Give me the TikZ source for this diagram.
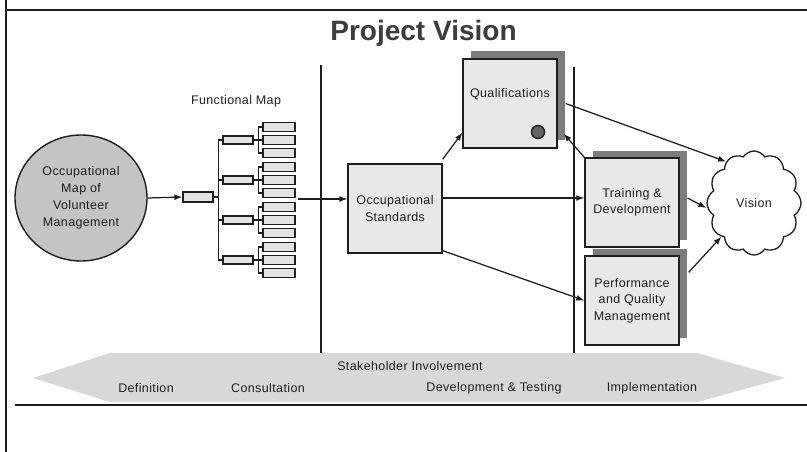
\documentclass[tikz,border=0pt]{standalone}
\usepackage{fontspec}
\setmainfont{Liberation Sans}
\newfontfamily\labfont[LetterSpace=3]{Liberation Sans}
\usetikzlibrary{arrows.meta,shapes.symbols,shapes.geometric,shadows}
\definecolor{boxgray}{HTML}{E8E8E8}
\definecolor{ovalgray}{HTML}{C4C4C4}
\definecolor{shadowgray}{HTML}{7C7C7C}
\definecolor{bandgray}{HTML}{D8D8D8}
\definecolor{treegray}{HTML}{E2E2E2}
\definecolor{inkc}{HTML}{1E1E1E}
\definecolor{titlec}{HTML}{3C3C3C}
\begin{document}
\begin{tikzpicture}[x=1pt,y=-1pt,
  lab/.style={font=\labfont\fontsize{12.5}{16.5}\selectfont, text=inkc, align=center},
  mainbox/.style={draw=inkc, line width=1.3pt, fill=boxgray, minimum width=94pt, minimum height=89pt, inner sep=0pt, lab},
  shbox/.style={mainbox, drop shadow={shadow xshift=7.5pt, shadow yshift=7.5pt, fill=shadowgray, opacity=1}},
  tbox/.style={draw=inkc, line width=1.3pt, fill=treegray, inner sep=0pt},
  tline/.style={draw=inkc, line width=1.2pt},
  divider/.style={draw=inkc, line width=1.7pt},
  frame/.style={draw=inkc, line width=1.7pt},
  arr/.style={draw=inkc, line width=1.25pt, -{Latex[length=8pt,width=6pt]}},
  bandtext/.style={font=\labfont\fontsize{12.5}{15}\selectfont, text=inkc}
]
\useasboundingbox (0,0) rectangle (807,452);
\fill[white] (0,0) rectangle (807,452);

% frame
\draw[frame] (6,0) -- (6,452);
\draw[frame] (6,10) -- (807,10);
\draw[frame] (15,405) -- (807,405);

% title
\node[font=\fontsize{28}{30}\selectfont\bfseries, text=titlec] (title) at (423.5,33) {Project Vision};

% stakeholder band
\fill[bandgray] (33,378) -- (110,353) -- (697,353) -- (785,378) -- (697,402) -- (110,402) -- cycle;
\node[bandtext] (stake) at (410,366) {Stakeholder Involvement};
\node[bandtext] (def) at (146,388) {Definition};
\node[bandtext] (cons) at (268,388) {Consultation};
\node[bandtext] (devt) at (494,388) {Development \& Testing};
\node[bandtext] (impl) at (652,388) {Implementation};

% dividers
\draw[divider] (321,65) -- (321,353);
\draw[divider] (574,67) -- (574,353);

% oval
\node[ellipse, draw=inkc, line width=1.4pt, fill=ovalgray, minimum width=132pt, minimum height=126pt, inner sep=0pt, lab, font=\labfont\fontsize{12.5}{17}\selectfont] (oval) at (81,198) {Occupational\\Map of\\Volunteer\\Management};

% functional map
\node[lab] (fmap) at (236,101) {Functional Map};
\node[tbox, minimum width=30pt, minimum height=10pt] (l1) at (198,197) {};
\draw[arr] (oval.east) -- (l1.west);
\foreach \k/\c in {1/140,2/180,3/220,4/260} {
  \node[tbox, minimum width=30pt, minimum height=8pt] (l2-\k) at (238,\c) {};
  \draw[tline] (l1.east) -- ++(5,0) |- (l2-\k.west);
  \foreach \j/\d in {1/-13,2/0,3/13} {
    \node[tbox, minimum width=32pt, minimum height=8.5pt] (l3-\k-\j) at (279,\c+\d) {};
    \draw[tline] (l2-\k.east) -- ++(5,0) |- (l3-\k-\j.west);
  }
}
\coordinate (treeout) at (298,199);

% boxes
\node[mainbox] (os) at (395,208.5) {Occupational\\Standards};
\node[shbox, label={[lab, yshift=9.5pt]center:Qualifications}] (qual) at (510,103.5) {};
\node[circle, draw=inkc, line width=1.4pt, fill=shadowgray!80!black, minimum size=13pt, inner sep=0pt] (seal) at (538,132) {};
\node[shbox] (train) at (632,202.5) {Training \&\\Development};
\node[shbox] (perf) at (632,300.5) {Performance\\and Quality\\Management};

% vision cloud
\node[cloud, cloud puffs=12, cloud puff arc=115, aspect=0.9, draw=inkc, line width=1.3pt, fill=white, minimum width=94pt, minimum height=104pt, inner sep=0pt, lab] (vision) at (754,203) {Vision};

% connectors
\draw[arr] (treeout) -- ([yshift=9.5pt]os.west);
\draw[arr] ([yshift=4pt]os.north east) -- ([yshift=16pt]qual.south west);
\draw[arr] ([yshift=10.5pt]os.east) -- ([yshift=4.5pt]train.west);
\draw[arr] ([yshift=3pt]os.south east) -- (perf.west);
\draw[arr] ([xshift=8pt]qual.east) -- (vision.124);
\draw[arr] (train.north west) -- ([xshift=6pt,yshift=15pt]qual.south east);
\draw[arr] ([xshift=8pt,yshift=4.5pt]train.east) -- ([yshift=-5pt]vision.west);
\draw[arr] ([xshift=9pt,yshift=-17pt]perf.north east) -- (vision.226);
\end{tikzpicture}
\end{document}
